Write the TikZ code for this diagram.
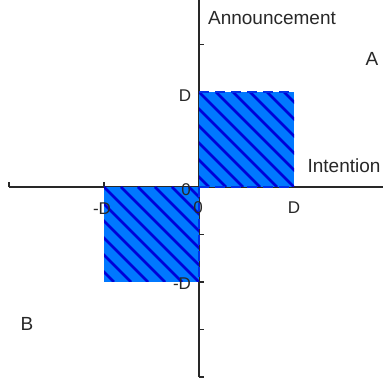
\documentclass[tikz,border=0pt]{standalone}
\usepackage{fontspec}
\setmainfont{Liberation Sans}
\definecolor{areablue}{RGB}{0,120,255}
\definecolor{hatchblue}{RGB}{0,0,215}
\definecolor{axisgray}{RGB}{40,40,40}
\tikzset{
  axis/.style = {draw=axisgray,line width=0.75pt},
  tick/.style = {draw=axisgray,line width=0.6pt},
  area/.style = {fill=areablue},
  hatch/.style = {draw=hatchblue,line width=1.4pt},
  rim/.style = {draw=hatchblue!60!areablue,line width=0.9pt,dash pattern=on 5 off 3},
  lbl/.style = {text=axisgray,font=\fontsize{8.5}{10}\selectfont,inner sep=0pt},
  big/.style = {text=axisgray,font=\fontsize{9.5}{11}\selectfont,inner sep=0pt}
}

\begin{document}
\begin{tikzpicture}[x=0.5pt,y=0.5pt]
  \pgfmathsetmacro{\D}{95};
  \useasboundingbox (-199,-196) rectangle (184,187);
  %
  \coordinate (O) at (0,0);
  % axes
  \draw[axis] (-190,0) -- (184,0);
  \draw[axis] (0,-190) -- (0,187);
  \foreach \x in {-190,-95}
    \draw[tick] (\x,0) -- ++(0,5);
  \foreach \y in {-190,-142.5,-95,-47.5,47.5,95,142.5}
    \draw[tick] (0,\y) -- ++(5,0);
  % upper square
  \fill[area] (O) rectangle (\D,\D);
  \begin{scope}
    \clip (O) rectangle (\D,\D);
    \foreach \c in {-102,-85,...,102}
      \draw[hatch] (\c,\D) -- ++(\D,-\D);
  \end{scope}
  \draw[rim] (0,\D) -- (\D,\D);
  \draw[rim] (O) -- (\D,0);
  % lower square
  \fill[area] (O) rectangle (-\D,-\D);
  \begin{scope}
    \clip (O) rectangle (-\D,-\D);
    \foreach \c in {-197,-180,...,10}
      \draw[hatch] (\c,0) -- ++(\D,-\D);
  \end{scope}
  \draw[rim] (O) -- (0,-\D);
  % axis labels
  \node[lbl] (zx) at (-13,-3) {0};
  \node[lbl] (zy) at (-1,-21) {0};
  \node[lbl] (ldy) at (-14,91) {D};
  \node[lbl] (ldx) at (95,-21) {D};
  \node[lbl] (lmdx) at (-97,-22) {-D};
  \node[lbl] (lmdy) at (-17,-97) {-D};
  % names
  \node[big] (ann) at (73,169) {Announcement};
  \node[big] (int) at (145,21) {Intention};
  \node[big] (pa) at (173,128) {A};
  \node[big] (pb) at (-172,-137) {B};
\end{tikzpicture}
\end{document}
